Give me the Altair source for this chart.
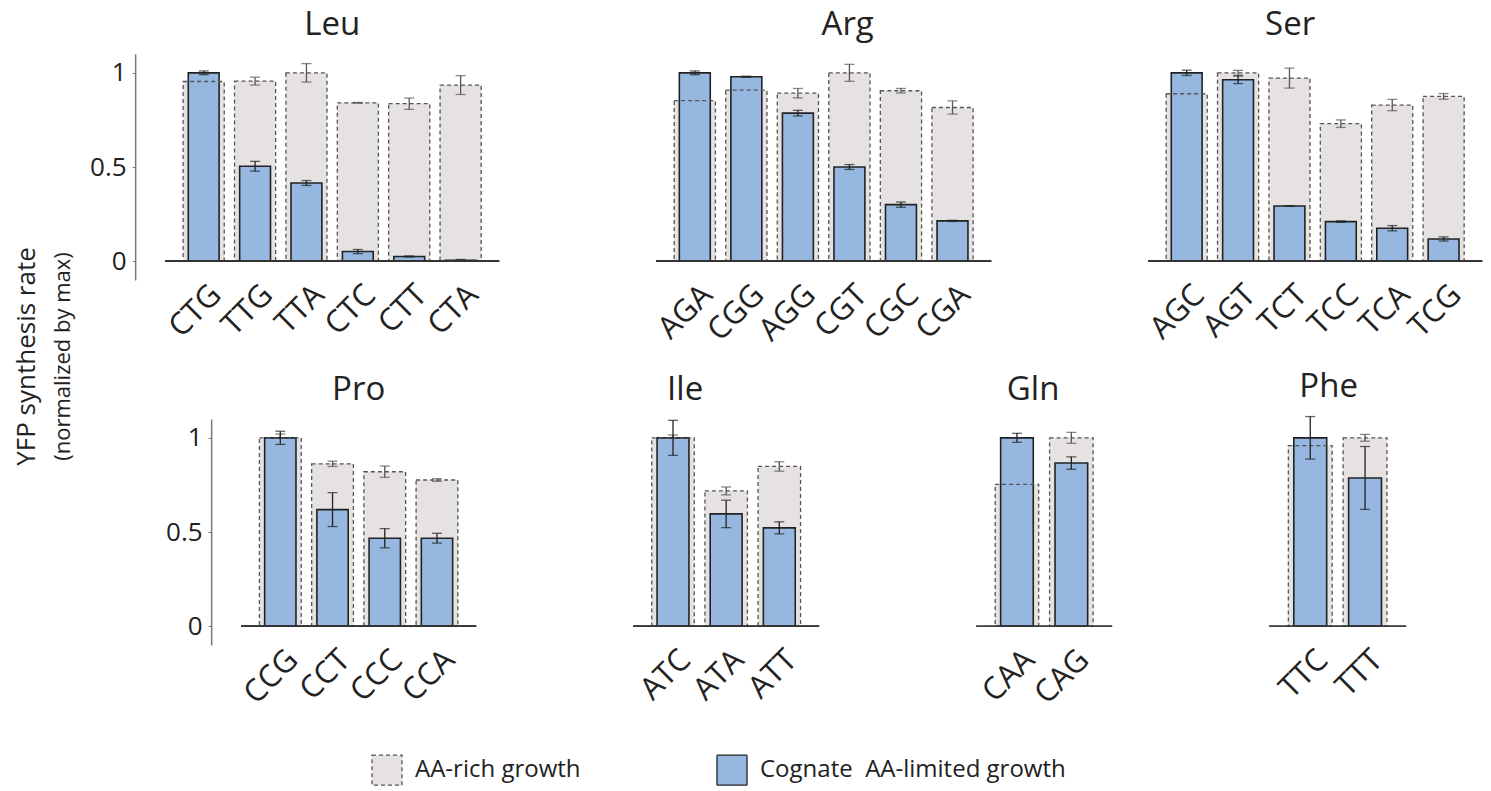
import altair as alt
import pandas as pd

FONT = "Open Sans"
RICH = "AA-rich growth"
LIM = "Cognate \u00a0AA-limited growth"

# ---- YFP synthesis rate per codon, normalized by max (mean and error) ----
leu_codons = ["CTG", "TTG", "TTA", "CTC", "CTT", "CTA"]
leu_rich = [0.954, 0.956, 1.0, 0.841, 0.836, 0.935]
leu_rich_err = [0.01, 0.021, 0.049, 0.002, 0.030, 0.050]
leu_lim = [1.0, 0.504, 0.415, 0.051, 0.025, 0.004]
leu_lim_err = [0.01, 0.026, 0.013, 0.011, 0.003, 0.005]

arg_codons = ["AGA", "CGG", "AGG", "CGT", "CGC", "CGA"]
arg_rich = [0.852, 0.908, 0.892, 1.0, 0.905, 0.816]
arg_rich_err = [0.01, 0.01, 0.025, 0.045, 0.012, 0.035]
arg_lim = [1.0, 0.979, 0.786, 0.500, 0.300, 0.214]
arg_lim_err = [0.01, 0.003, 0.015, 0.013, 0.014, 0.003]

ser_codons = ["AGC", "AGT", "TCT", "TCC", "TCA", "TCG"]
ser_rich = [0.889, 1.0, 0.972, 0.730, 0.829, 0.875]
ser_rich_err = [0.01, 0.013, 0.053, 0.02, 0.03, 0.015]
ser_lim = [1.0, 0.963, 0.293, 0.210, 0.175, 0.118]
ser_lim_err = [0.014, 0.02, 0.002, 0.004, 0.014, 0.011]

pro_codons = ["CCG", "CCT", "CCC", "CCA"]
pro_rich = [1.0, 0.862, 0.820, 0.776]
pro_rich_err = [0.02, 0.014, 0.03, 0.007]
pro_lim = [1.0, 0.619, 0.467, 0.467]
pro_lim_err = [0.035, 0.09, 0.051, 0.026]

ile_codons = ["ATC", "ATA", "ATT"]
ile_rich = [1.0, 0.718, 0.848]
ile_rich_err = [0.015, 0.021, 0.025]
ile_lim = [1.0, 0.596, 0.522]
ile_lim_err = [0.093, 0.073, 0.032]

gln_codons = ["CAA", "CAG"]
gln_rich = [0.753, 1.0]
gln_rich_err = [0.01, 0.029]
gln_lim = [1.0, 0.866]
gln_lim_err = [0.024, 0.033]

phe_codons = ["TTC", "TTT"]
phe_rich = [0.959, 1.0]
phe_rich_err = [0.01, 0.018]
phe_lim = [1.0, 0.787]
phe_lim_err = [0.113, 0.167]

# ---- shared styling ----
series_domain = [RICH, LIM]
fill_scale = alt.Scale(domain=series_domain, range=["#e6e2e2", "#95b7e0"])
stroke_scale = alt.Scale(domain=series_domain, range=["#555555", "#222222"])
dash_scale = alt.Scale(domain=series_domain, range=[[4, 3], [1, 0]])

legend = alt.Legend(
    title=None, orient="none", legendX=206, legendY=700, direction="horizontal",
    symbolType="square", symbolSize=900, symbolStrokeWidth=1.3,
    labelFontSize=24, labelFont=FONT, labelColor="#222", labelOffset=12,
    labelLimit=400, columnPadding=133,
)

y_scale = alt.Scale(domain=[-0.1, 1.1], nice=False, zero=False)


def panel(name, codons, rich, rich_err, lim, lim_err, width, show_y, title_dx):
    df = pd.DataFrame({
        "codon": codons, "rich": rich, "lim": lim,
        "rich_lo": [v - e for v, e in zip(rich, rich_err)],
        "rich_hi": [v + e for v, e in zip(rich, rich_err)],
        "lim_lo": [v - e for v, e in zip(lim, lim_err)],
        "lim_hi": [v + e for v, e in zip(lim, lim_err)],
    })
    base = alt.Chart(df)
    x = alt.X(
        "codon:N", sort=codons, title=None,
        scale=alt.Scale(paddingInner=0, paddingOuter=0.25),
        axis=alt.Axis(labelAngle=-45, labelAlign="right", labelBaseline="middle",
                      labelFontSize=31, labelFont=FONT, labelColor="#222",
                      domain=False, ticks=False, labelPadding=10, labelOffset=13),
    )
    if show_y:
        y_axis = alt.Axis(values=[0, 0.5, 1], format=".1~f", offset=30,
                          domainColor="#777", domainWidth=1.5, tickColor="#777",
                          tickSize=3, labelFontSize=26, labelFont=FONT,
                          labelColor="#222", labelPadding=6, grid=False)
    else:
        y_axis = None

    def yq(field):
        return alt.Y(f"{field}:Q", scale=y_scale, axis=y_axis, title=None)

    rich_series = base.transform_calculate(series=f"'{RICH}'")
    lim_series = base.transform_calculate(series=f"'{LIM}'")

    rich_fill = rich_series.mark_bar(width=alt.RelativeBandSize(0.8), strokeWidth=0).encode(
        x=x, y=yq("rich"), y2=alt.datum(0),
        fill=alt.Fill("series:N", scale=fill_scale, legend=legend),
    )
    rich_err_rule = base.mark_rule(color="#555", strokeWidth=1.3).encode(
        x=x, y=yq("rich_lo"), y2="rich_hi")
    rich_caps = base.transform_fold(["rich_lo", "rich_hi"], as_=["k", "v"]).mark_tick(
        color="#555", size=10, thickness=1.3).encode(x=x, y=yq("v"))
    lim_bar = lim_series.mark_bar(width=alt.RelativeBandSize(0.6), strokeWidth=1.6).encode(
        x=x, y=yq("lim"), y2=alt.datum(0),
        fill=alt.Fill("series:N", scale=fill_scale, legend=legend),
        stroke=alt.Stroke("series:N", scale=stroke_scale, legend=legend),
        strokeDash=alt.StrokeDash("series:N", scale=dash_scale, legend=legend),
    )
    rich_outline = rich_series.mark_bar(width=alt.RelativeBandSize(0.8), fillOpacity=0,
                                        strokeWidth=1.3).encode(
        x=x, y=yq("rich"), y2=alt.datum(0),
        stroke=alt.Stroke("series:N", scale=stroke_scale, legend=legend),
        strokeDash=alt.StrokeDash("series:N", scale=dash_scale, legend=legend),
    )
    lim_err_rule = base.mark_rule(color="#222", strokeWidth=1.3).encode(
        x=x, y=yq("lim_lo"), y2="lim_hi")
    lim_caps = base.transform_fold(["lim_lo", "lim_hi"], as_=["k", "v"]).mark_tick(
        color="#222", size=10, thickness=1.3).encode(x=x, y=yq("v"))
    baseline = base.mark_rule(color="#333", strokeWidth=1.4).encode(y=alt.datum(0))

    return alt.layer(
        rich_fill, rich_err_rule, rich_caps, lim_bar, rich_outline,
        lim_err_rule, lim_caps, baseline,
    ).properties(
        width=width, height=226,
        title=alt.TitleParams(name, fontSize=33, font=FONT, fontWeight="normal",
                              color="#222", offset=12, dx=title_dx),
    )


top = alt.hconcat(
    panel("Leu", leu_codons, leu_rich, leu_rich_err, leu_lim, leu_lim_err, 334, True, 0),
    panel("Arg", arg_codons, arg_rich, arg_rich_err, arg_lim, arg_lim_err, 335, False, 24),
    panel("Ser", ser_codons, ser_rich, ser_rich_err, ser_lim, ser_lim_err, 334, False, -25),
    spacing=157, bounds="flush",
).resolve_scale(x="independent")

bottom = alt.hconcat(
    panel("Pro", pro_codons, pro_rich, pro_rich_err, pro_lim, pro_lim_err, 235, True, 0),
    panel("Ile", ile_codons, ile_rich, ile_rich_err, ile_lim, ile_lim_err, 186, False, -41),
    panel("Gln", gln_codons, gln_rich, gln_rich_err, gln_lim, gln_lim_err, 136, False, -11),
    panel("Phe", phe_codons, phe_rich, phe_rich_err, phe_lim, phe_lim_err, 137, False, -9),
    spacing=157, bounds="flush",
).resolve_scale(x="independent")

chart = alt.vconcat(
    top, bottom, spacing=23, center=True,
).resolve_scale(
    x="independent", fill="shared", stroke="shared", strokeDash="shared",
).properties(
    title=alt.TitleParams(
        "YFP synthesis rate", subtitle="(normalized by max)", orient="left",
        anchor="middle", fontSize=26, subtitleFontSize=22, font=FONT,
        subtitleFont=FONT, fontWeight="normal", color="#222",
        subtitleColor="#222", subtitlePadding=13, offset=16, dx=42,
    ),
    padding={"left": 13, "top": 9, "right": 5, "bottom": 5},
).configure(font=FONT).configure_view(stroke=None)

chart.save("out.html", embed_options={"renderer": "svg", "actions": False})
